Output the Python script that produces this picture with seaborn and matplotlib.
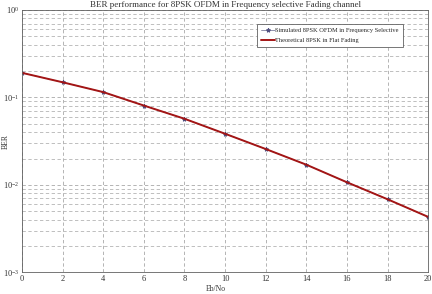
import matplotlib
matplotlib.use("Agg")
import matplotlib.pyplot as plt
import seaborn as sns
import numpy as np
import pandas as pd
from matplotlib.ticker import LogLocator, NullFormatter, FixedLocator

sns.set_theme(style="white")
plt.rcParams['font.family'] = ['Liberation Serif', 'DejaVu Serif']

ebno = [0, 2, 4, 6, 8, 10, 12, 14, 16, 18, 20]
ber_sim = [0.191, 0.149, 0.115, 0.0807, 0.057, 0.0384, 0.0257, 0.0170, 0.0107, 0.00684, 0.0043]
ber_theory = [0.191, 0.149, 0.115, 0.0807, 0.057, 0.0384, 0.0257, 0.0170, 0.0107, 0.00684, 0.0043]
xticks = [0, 2, 4, 6, 8, 10, 12, 14, 16, 18, 20]

df_sim = pd.DataFrame({"EbNo": ebno, "BER": ber_sim})
df_th = pd.DataFrame({"EbNo": ebno, "BER": ber_theory})

fig = plt.figure(figsize=(4.32, 2.94), dpi=100)
ax = fig.add_axes([0.051, 0.074, 0.940, 0.892])

sns.lineplot(data=df_sim, x="EbNo", y="BER", ax=ax, color="#8080a0", marker="*",
             markersize=3, markeredgecolor="#505080", markerfacecolor="#505080",
             linewidth=0.6, label="Simulated 8PSK OFDM in Frequency Selective")
sns.lineplot(data=df_th, x="EbNo", y="BER", ax=ax, color="#a31515",
             linewidth=1.4, label="Theoretical 8PSK in Flat Fading")

ax.set_yscale("log")
ax.set_xlim(0, 20)
ax.set_ylim(1e-3, 1)
ax.xaxis.set_major_locator(FixedLocator(xticks))
ax.set_xticklabels([str(t) for t in xticks])
ax.yaxis.set_major_locator(LogLocator(base=10, numticks=10))
ax.yaxis.set_minor_locator(LogLocator(base=10, subs=np.arange(2, 10), numticks=20))
ax.yaxis.set_minor_formatter(NullFormatter())

ax.grid(True, which="major", axis="both", linestyle=(0, (4, 3)), color="#a8a8a8", linewidth=0.6)
ax.grid(True, which="minor", axis="y", linestyle=(0, (4, 3)), color="#b4b4b4", linewidth=0.6)

for s in ax.spines.values():
    s.set_visible(True)
    s.set_color("#606060")
    s.set_linewidth(0.6)

ax.tick_params(axis="both", which="major", labelsize=6, length=0, pad=2, colors="#333333")
ax.tick_params(axis="both", which="minor", length=0)

ax.set_title("BER performance for 8PSK OFDM in Frequency selective Fading channel",
             fontsize=6.5, pad=2, color="#333333")
ax.set_xlabel("")
ax.set_ylabel("")
fig.text(0.5, 0.003, "Eb/No", fontsize=5.5, color="#333333", ha="center", va="bottom")
fig.text(0.004, 0.52, "BER", fontsize=5.5, color="#333333", ha="left", va="center", rotation=90)

leg = ax.legend(loc="upper right", bbox_to_anchor=(0.945, 0.96), fontsize=4.6,
                frameon=True, fancybox=False, edgecolor="#606060", framealpha=1,
                handlelength=2.2, borderpad=0.6, labelspacing=0.7, handletextpad=0.1)
leg.get_frame().set_linewidth(0.6)

fig.savefig("out.png", dpi=100)
